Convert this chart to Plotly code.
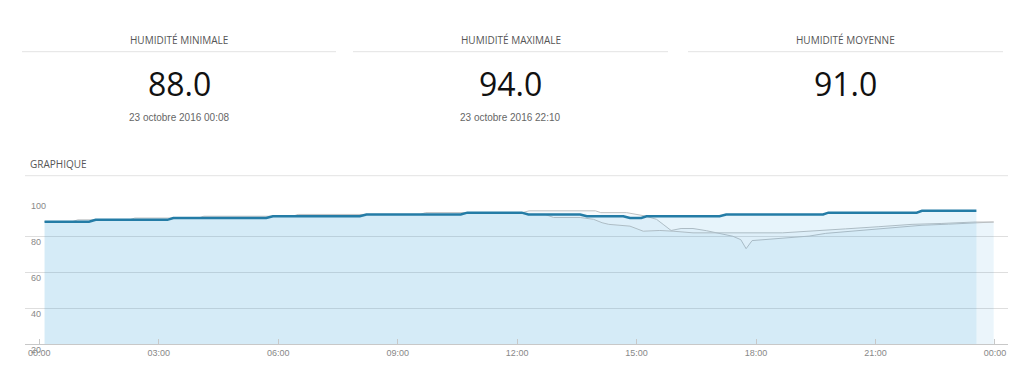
import plotly.graph_objects as go

DAY = "2016-10-23"
NEXT = "2016-10-24"

# ---- data -------------------------------------------------------------
stat_titles = ["HUMIDITÉ MINIMALE", "HUMIDITÉ MAXIMALE", "HUMIDITÉ MOYENNE"]
stat_values = [88.0, 94.0, 91.0]
stat_dates = ["23 octobre 2016 00:08", "23 octobre 2016 22:10", ""]

main_times = ["00:08", "01:15", "01:25", "03:13", "03:22", "05:42", "05:52", "08:03",
              "08:13", "10:35", "10:45", "12:07", "12:17", "13:35", "13:45", "14:40",
              "14:50", "15:07", "15:15", "17:05", "17:15", "19:41", "19:49", "22:02",
              "22:10", "23:32"]
main_values = [88, 88, 89, 89, 90, 90, 91, 91,
               92, 92, 93, 93, 92, 92, 91, 91,
               90, 90, 91, 91, 92, 92, 93, 93,
               94, 94]

cmp1_times = ["00:08", "00:50", "00:58", "02:16", "02:24", "04:00", "04:08", "06:22",
              "06:30", "09:34", "09:42", "12:08", "12:18", "13:58", "14:06", "14:45",
              "15:12", "15:30", "15:40", "15:52", "16:07", "16:25", "16:45", "17:12",
              "17:25", "17:37", "17:45", "17:54", "18:20", "18:50", "19:20", "19:45",
              "20:15", "21:00", "21:50", "22:10", "22:50", "23:20", "23:58"]
cmp1_values = [88, 88, 89, 89, 90, 90, 91, 91,
               92, 92, 93, 93, 94, 94, 93, 93,
               91.2, 89.3, 86.5, 83.1, 84.2, 84.2, 83.0, 80.8,
               79.9, 78.0, 73.0, 77.5, 78.3, 79.2, 80.0, 81.5,
               82.5, 83.6, 85.3, 86.0, 86.6, 87.3, 87.8]

cmp2_times = ["00:08", "01:15", "01:25", "03:13", "03:22", "05:42", "05:52", "08:03",
              "08:13", "10:35", "10:45", "12:07", "12:17", "12:42", "12:55", "13:35",
              "13:55", "14:08", "14:18", "14:35", "14:50", "15:10", "15:35", "15:55",
              "16:25", "18:40", "19:05", "19:40", "20:15", "21:05", "21:55", "22:40",
              "23:30", "23:58"]
cmp2_values = [88, 88, 89, 89, 90, 90, 91, 91,
               92, 92, 93, 93, 92, 92, 90.3, 90.3,
               89.3, 87.4, 86.5, 86.0, 85.5, 82.7, 83.1, 82.7,
               81.8, 81.8, 82.3, 83.3, 84.0, 85.2, 86.5, 87.0,
               87.8, 87.8]

y_ticks = [20, 40, 60, 80, 100]


def stamps(times):
    return [f"{DAY} {t}" for t in times]


# ---- layout helpers (pixel -> paper) -----------------------------------
W, H = 1024, 374


def fx(p):
    return p / W


def fy(p):
    return 1 - p / H


fig = go.Figure()

for times, vals in ((cmp1_times, cmp1_values), (cmp2_times, cmp2_values)):
    fig.add_trace(go.Scatter(
        x=stamps(times), y=vals, mode="lines",
        line=dict(color="rgb(190,192,194)", width=1),
        fill="tozeroy", fillcolor="rgba(60,165,225,0.05)",
        hoverinfo="skip", showlegend=False))

fig.add_trace(go.Scatter(
    x=stamps(main_times), y=main_values, mode="lines",
    line=dict(color="rgb(36,124,166)", width=2.5),
    fill="tozeroy", fillcolor="rgba(60,165,225,0.12)",
    showlegend=False))

annotations = []
shapes = []
centers = [179, 510.5, 845.5]
spans = [(22, 336), (353, 668), (688, 1003)]
for title, val, date, cx, (x0, x1) in zip(stat_titles, stat_values, stat_dates, centers, spans):
    annotations.append(dict(x=fx(cx), y=fy(40), xref="paper", yref="paper",
                            text=title, showarrow=False, xanchor="center", yanchor="middle",
                            font=dict(family="Open Sans", size=10, color="#555")))
    annotations.append(dict(x=fx(cx), y=fy(83), xref="paper", yref="paper",
                            text=f"{val:.1f}", showarrow=False, xanchor="center", yanchor="middle",
                            font=dict(family="Open Sans", size=32, color="#111", weight=400)))
    if date:
        annotations.append(dict(x=fx(cx), y=fy(118), xref="paper", yref="paper",
                                text=date, showarrow=False, xanchor="center", yanchor="middle",
                                font=dict(family="Liberation Sans", size=10, color="#666")))
    shapes.append(dict(type="line", xref="paper", yref="paper",
                       x0=fx(x0), x1=fx(x1), y0=fy(51.7), y1=fy(51.7),
                       line=dict(color="#e3e3e3", width=1)))

annotations.append(dict(x=fx(28), y=fy(164), xref="paper", yref="paper",
                        text="GRAPHIQUE", showarrow=False, xanchor="left", yanchor="middle",
                        font=dict(family="Open Sans", size=10, color="#555")))
shapes.append(dict(type="line", xref="paper", yref="paper",
                   x0=fx(25), x1=fx(1008), y0=fy(175.7), y1=fy(175.7),
                   line=dict(color="#e3e3e3", width=1)))

fig.update_layout(
    width=W, height=H,
    margin=dict(l=0, r=0, t=0, b=0),
    paper_bgcolor="white", plot_bgcolor="white",
    annotations=annotations, shapes=shapes,
    xaxis=dict(
        domain=[fx(25), fx(1008)],
        range=["2016-10-22 23:38:30", f"{NEXT} 00:19:36"],
        type="date",
        tick0=f"{DAY} 00:00", dtick=3 * 3600 * 1000, tickformat="%H:%M",
        ticks="inside", ticklen=5, tickcolor="#c8c8c8",
        showline=True, linecolor="#c8c8c8", linewidth=1,
        showgrid=False, zeroline=False, automargin=False,
        tickfont=dict(family="Liberation Sans", size=9, color="#888"),
    ),
    yaxis=dict(
        domain=[fy(344.3), fy(200)],
        range=[20, 100],
        tickvals=y_ticks,
        ticklabelposition="inside", ticklabelshift=6, ticklabelstandoff=3,
        ticklabeloverflow="allow",
        showgrid=True, gridcolor="#dedede", gridwidth=1,
        zeroline=False, showline=False, ticks="", automargin=False,
        tickfont=dict(family="Liberation Sans", size=9, color="#888"),
    ),
)

fig.write_html("out.html")
